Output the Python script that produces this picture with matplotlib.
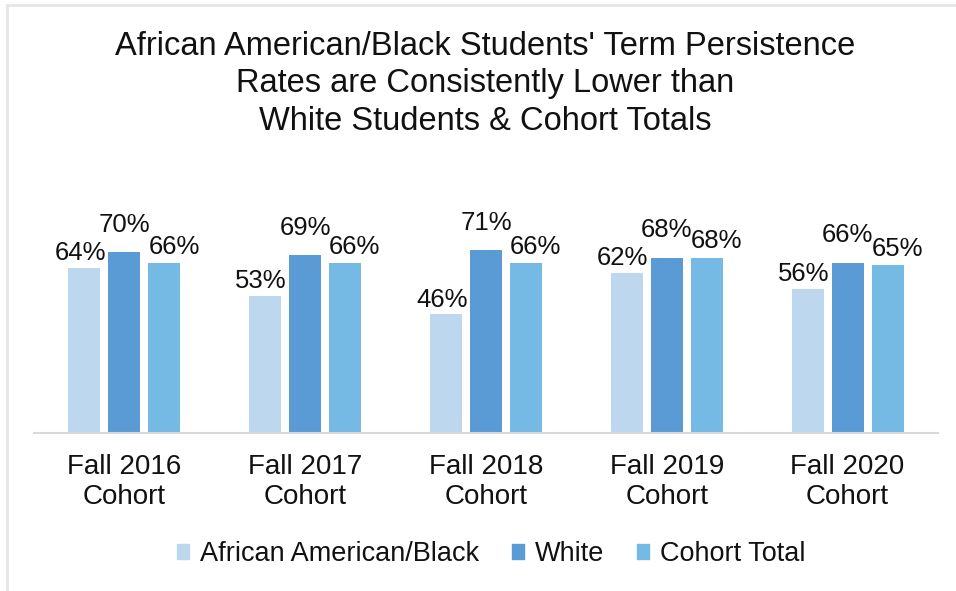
import matplotlib
matplotlib.use("Agg")
from matplotlib import pyplot as plt
from matplotlib.lines import Line2D
import numpy as np

plt.rcParams["font.family"] = ["Liberation Sans", "DejaVu Sans"]

# Term persistence rates by cohort
cohorts = ["Fall 2016\nCohort", "Fall 2017\nCohort", "Fall 2018\nCohort",
           "Fall 2019\nCohort", "Fall 2020\nCohort"]
series_names = ["African American/Black", "White", "Cohort Total"]
black = [64, 53, 46, 62, 56]
white = [70, 69, 71, 68, 66]
total = [66, 66, 66, 68, 65]

colors = ["#BDD7EE", "#5B9BD5", "#75B9E5"]
# label nudges (points) per series: x, y
label_offsets = [(-3, 2), (0, 11), (7, 3)]

fig = plt.figure(figsize=(9.56, 5.91), dpi=100)
ax = fig.add_axes([34 / 956, 158 / 591, 904 / 956, 258 / 591])

x = np.arange(len(cohorts))
width = 0.177
step = 0.221
for i, (vals, name, col) in enumerate(zip([black, white, total], series_names, colors)):
    pos = x + (i - 1) * step
    bars = ax.bar(pos, vals, width, color=col, label=name, zorder=2)
    dx, dy = label_offsets[i]
    for b, v in zip(bars, vals):
        ax.annotate(f"{v}%", (b.get_x() + b.get_width() / 2, v),
                    xytext=(dx, dy), textcoords="offset points",
                    ha="center", va="bottom", fontsize=18.5, color="#111111", zorder=3)

ax.set_xlim(-0.5, 4.5)
ax.set_ylim(0, 100)
ax.set_yticks([])
for s in ["top", "right", "left"]:
    ax.spines[s].set_visible(False)
ax.spines["bottom"].set_color("#d9d9d9")
ax.spines["bottom"].set_linewidth(1.5)
ax.set_xticks(x)
ax.set_xticklabels(cohorts, fontsize=20, color="#111111", linespacing=1.2)
ax.tick_params(axis="x", length=0, pad=15)

handles = [plt.Rectangle((0, 0), 1, 1, color=c) for c in colors]
fig.legend(handles, series_names, loc="center", bbox_to_anchor=(491 / 956, 1 - 554 / 591),
           ncol=3, frameon=False, fontsize=19.5, handlelength=0.45, handleheight=0.45,
           handletextpad=0.4, columnspacing=1.2, labelcolor="#111111")

fig.text(485 / 956, 1 - 31 / 591,
         "African American/Black Students' Term Persistence\nRates are Consistently Lower than\nWhite Students & Cohort Totals",
         ha="center", va="top", fontsize=23.5, linespacing=1.27, color="#111111")

# faint frame lines at top and left
fig.add_artist(Line2D([7 / 956, 1], [1 - 5 / 591, 1 - 5 / 591], color="#e6e6e6", lw=2))
fig.add_artist(Line2D([7 / 956, 7 / 956], [0, 1 - 5 / 591], color="#e6e6e6", lw=2))

fig.savefig("out.png", dpi=100)
